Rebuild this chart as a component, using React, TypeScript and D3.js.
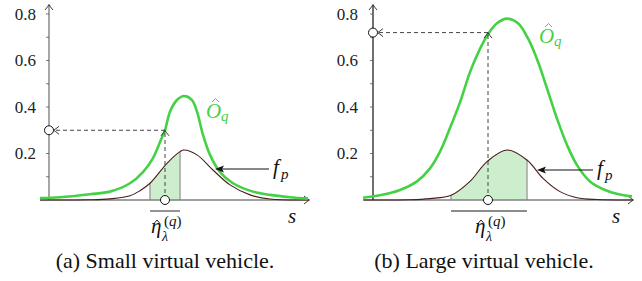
import React from "react";
import * as d3 from "d3";

// ---- data (s measured from the y-axis, value on y-axis) ----
const yTickLabels = ["0.2", "0.4", "0.6", "0.8"];
const yTickValues = [0.2, 0.4, 0.6, 0.8];
const yMinorTicks = [0.1, 0.2, 0.3, 0.4, 0.5, 0.6, 0.7, 0.8];

// Panel (a): small virtual vehicle
const aGreenS = [-0.9, 1.1, 4.1, 6.1, 8.1, 9.4, 10.4, 11.3, 11.6, 12.1, 12.8, 13.5, 14.3, 14.8, 15.4, 16.1, 17.1, 18.4, 20.4, 22.1, 24.1, 25.9];
const aGreenV = [0.008, 0.012, 0.025, 0.036, 0.072, 0.12, 0.18, 0.27, 0.30, 0.38, 0.43, 0.447, 0.43, 0.38, 0.28, 0.194, 0.12, 0.072, 0.036, 0.022, 0.012, 0.006];
const aBrownS = [-0.9, 4.1, 6.1, 8.1, 9.1, 10.1, 11.8, 13.1, 13.5, 14.8, 16.4, 18.1, 20.1, 22.1, 25.9];
const aBrownV = [0, 0.001, 0.005, 0.018, 0.04, 0.072, 0.158, 0.208, 0.215, 0.194, 0.129, 0.065, 0.022, 0.004, 0];
const aShade = [10.1, 13.1];
const aEta = 11.6;
const aOq = 0.30;

// Panel (b): large virtual vehicle
const bGreenS = [-1.0, 0.7, 2.7, 4.4, 5.7, 6.7, 7.7, 8.7, 9.7, 10.7, 11.5, 12.4, 13.4, 14.5, 15.5, 16.5, 17.4, 18.4, 19.4, 20.4, 21.7, 23.4, 25.4, 25.9];
const bGreenV = [0.01, 0.02, 0.043, 0.08, 0.136, 0.208, 0.31, 0.42, 0.55, 0.65, 0.713, 0.76, 0.78, 0.76, 0.695, 0.595, 0.48, 0.35, 0.237, 0.15, 0.08, 0.04, 0.018, 0.016];
const bBrownS = [-1.0, 3.7, 5.7, 7.8, 9.7, 11.4, 13.4, 15.4, 17.0, 18.7, 20.4, 22.4, 25.9];
const bBrownV = [0, 0.001, 0.006, 0.02, 0.08, 0.165, 0.215, 0.172, 0.093, 0.036, 0.01, 0.002, 0];
const bShade = [7.8, 15.4];
const bEta = 11.5;
const bOq = 0.72;

const captions = ["(a) Small virtual vehicle.", "(b) Large virtual vehicle."];

const GREEN = "#45d145";
const BROWN = "#4a1c1c";
const FILL = "#cdeecd";

type P = { s: number; v: number };
const zip = (s: number[], v: number[]): P[] => s.map((x, i) => ({ s: x, v: v[i] }));

const yScale = d3.scaleLinear().domain([0, 0.8]).range([200, 14]);

function chevron(tx: number, ty: number, dir: "up" | "left" | "right", len = 5.5, spread = 4) {
  if (dir === "up") return `M${tx - spread},${ty + len} Q${tx - 1},${ty + 2} ${tx},${ty} Q${tx + 1},${ty + 2} ${tx + spread},${ty + len}`;
  if (dir === "left") return `M${tx + len},${ty - spread} Q${tx + 2},${ty - 1} ${tx},${ty} Q${tx + 2},${ty + 1} ${tx + len},${ty + spread}`;
  return `M${tx - len},${ty - spread} Q${tx - 2},${ty - 1} ${tx},${ty} Q${tx - 2},${ty + 1} ${tx - len},${ty + spread}`;
}

type PanelProps = {
  id: string;
  axisX: number;
  yAxisColor: string;
  green: P[];
  brown: P[];
  shade: number[];
  eta: number;
  oq: number;
  tickRight: number;
  oLabel: [number, number];
  fLabel: [number, number];
  fArrow: [number, number, number];
  caption: string;
  captionX: number;
};

function Panel(p: PanelProps) {
  const x = d3.scaleLinear().domain([0, 26]).range([p.axisX, p.axisX + 260]);
  const curve = d3.curveCatmullRom.alpha(0.5);
  const line = d3.line<P>().x((d) => x(d.s)).y((d) => yScale(d.v)).curve(curve);
  const area = d3.area<P>().x((d) => x(d.s)).y0(yScale(0)).y1((d) => yScale(d.v)).curve(curve);
  const y0 = yScale(0);
  const xs0 = x(p.shade[0]);
  const xs1 = x(p.shade[1]);
  const xe = x(p.eta);
  const ye = yScale(p.oq);
  const axStart = x(-0.9);
  const axEnd = x(26);
  const ex = p.axisX + 102; // eta label left
  const ox = p.oLabel[0];
  const oy = p.oLabel[1];
  return (
    <g>
      <defs>
        <clipPath id={`clip-${p.id}`}>
          <rect x={xs0} y={0} width={xs1 - xs0} height={y0} />
        </clipPath>
        <clipPath id={`area-${p.id}`}>
          <path d={area(p.brown) || ""} />
        </clipPath>
      </defs>
      {/* shaded probability region */}
      <path d={area(p.brown) || ""} fill={FILL} clipPath={`url(#clip-${p.id})`} />
      <g clipPath={`url(#area-${p.id})`}>
        <line x1={xs0} x2={xs0} y1={y0} y2={0} stroke="#a8a8a8" strokeWidth={1.6} />
        <line x1={xs1} x2={xs1} y1={y0} y2={0} stroke="#a8a8a8" strokeWidth={1.6} />
      </g>
      {/* x axis */}
      <line x1={axStart} x2={axEnd} y1={y0} y2={y0} stroke="#808080" strokeWidth={1.5} />
      <path d={chevron(axEnd + 0.5, y0, "right")} fill="none" stroke="#222" strokeWidth={0.9} />
      {/* y axis */}
      <line x1={p.axisX} x2={p.axisX} y1={y0} y2={5} stroke={p.yAxisColor} strokeWidth={1.3} />
      <path d={chevron(p.axisX, 4.5, "up")} fill="none" stroke="#222" strokeWidth={0.9} />
      {yMinorTicks.map((t) => (
        <line key={t} x1={p.axisX - 3} x2={p.axisX} y1={yScale(t)} y2={yScale(t)} stroke="#555" strokeWidth={0.8} />
      ))}
      {yTickValues.map((t, i) => (
        <text key={t} x={p.tickRight} y={yScale(t) + 5.5} textAnchor="end" fontSize={17} fill="#222">
          {yTickLabels[i]}
        </text>
      ))}
      {/* curves */}
      <path d={line(p.brown) || ""} fill="none" stroke={BROWN} strokeWidth={1.1} />
      <path d={line(p.green) || ""} fill="none" stroke={GREEN} strokeWidth={2.6} />
      {/* dashed projection */}
      <line x1={xe} x2={xe} y1={y0} y2={ye} stroke="#444" strokeWidth={1} strokeDasharray="4,3" />
      <path d={chevron(xe, ye, "up")} fill="none" stroke="#222" strokeWidth={0.9} />
      <line x1={xe} x2={p.axisX + 4} y1={ye} y2={ye} stroke="#444" strokeWidth={1} strokeDasharray="4,3" />
      <path d={chevron(p.axisX + 4.5, ye, "left")} fill="none" stroke="#222" strokeWidth={0.9} />
      <circle cx={p.axisX} cy={ye} r={4.5} fill="#fff" stroke="#111" strokeWidth={1} />
      <circle cx={xe} cy={y0} r={4.5} fill="#fff" stroke="#111" strokeWidth={1} />
      {/* interval bar + eta label */}
      <line x1={xs0} x2={xs1} y1={211} y2={211} stroke="#666" strokeWidth={1.4} />
      <text x={ex} y={233} fontSize={21} fontStyle="italic" fill="#111">η</text>
      <path d={`M${ex + 3},${223.5} L${ex + 6},${220} L${ex + 9},${223.5}`} fill="none" stroke="#111" strokeWidth={0.9} />
      <text x={ex + 11} y={241} fontSize={14} fontStyle="italic" fill="#111">λ</text>
      <text x={ex + 13} y={226} fontSize={15} fill="#111">
        (<tspan fontStyle="italic">q</tspan>)
      </text>
      {/* O_q label */}
      <text x={ox} y={oy} fontSize={21} fontStyle="italic" fill={GREEN}>O</text>
      <path d={`M${ox + 6},${oy - 16} L${ox + 9.5},${oy - 19.5} L${ox + 13},${oy - 16}`} fill="none" stroke={GREEN} strokeWidth={1} />
      <text x={ox + 15} y={oy + 3} fontSize={15} fontStyle="italic" fill={GREEN}>q</text>
      {/* f_p label and arrow */}
      <line x1={p.fArrow[0]} x2={p.fArrow[1] + 6} y1={p.fArrow[2]} y2={p.fArrow[2]} stroke="#111" strokeWidth={1} />
      <path
        d={`M${p.fArrow[1]},${p.fArrow[2]} L${p.fArrow[1] + 9},${p.fArrow[2] - 3.5} L${p.fArrow[1] + 7},${p.fArrow[2]} L${p.fArrow[1] + 9},${p.fArrow[2] + 3.5} Z`}
        fill="#111"
      />
      <text x={p.fLabel[0]} y={p.fLabel[1]} fontSize={21} fontStyle="italic" fill="#111">f</text>
      <text x={p.fLabel[0] + 8} y={p.fLabel[1] + 5} fontSize={15} fontStyle="italic" fill="#111">p</text>
      <text x={p.axisX + 239} y={223} fontSize={21} fontStyle="italic" fill="#111">s</text>
      <text x={p.captionX} y={268} textAnchor="middle" fontSize={22} fill="#111">
        {p.caption}
      </text>
    </g>
  );
}

export default function App() {
  return (
    <div style={{ position: "absolute", left: 0, top: 0, width: 642, height: 281 }}>
      <style>{"svg text, svg tspan { font-family: 'Liberation Serif', 'Times New Roman', serif !important; }"}</style>
      <svg width={642} height={281} fontFamily="Liberation Serif" style={{ display: "block" }}>
        <rect width={642} height={281} fill="#fff" />
        <Panel
          id="a"
          axisX={49}
          yAxisColor="#777"
          green={zip(aGreenS, aGreenV)}
          brown={zip(aBrownS, aBrownV)}
          shade={aShade}
          eta={aEta}
          oq={aOq}
          tickRight={36}
          oLabel={[206, 118]}
          fLabel={[273, 174]}
          fArrow={[269, 215, 169]}
          caption={captions[0]}
          captionX={165}
        />
        <Panel
          id="b"
          axisX={373}
          yAxisColor="#222"
          green={zip(bGreenS, bGreenV)}
          brown={zip(bBrownS, bBrownV)}
          shade={bShade}
          eta={bEta}
          oq={bOq}
          tickRight={358}
          oLabel={[539, 43]}
          fLabel={[597, 175]}
          fArrow={[593, 537, 170]}
          caption={captions[1]}
          captionX={484}
        />
      </svg>
    </div>
  );
}
